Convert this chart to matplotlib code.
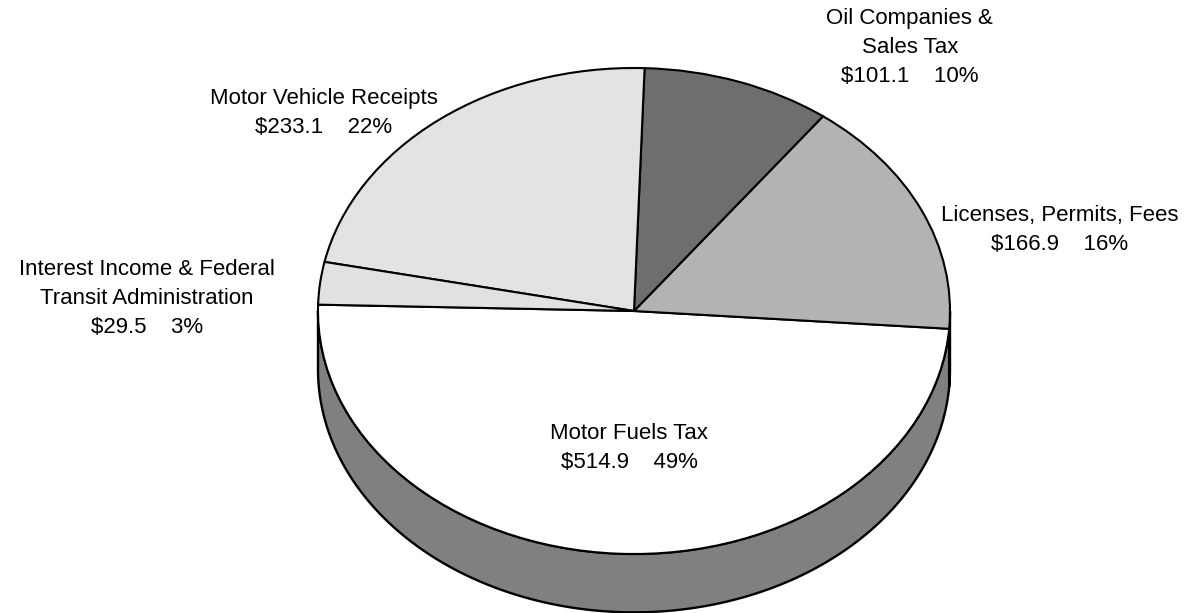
import matplotlib.pyplot as plt
import numpy as np

plt.rcParams['font.family'] = ['Liberation Sans', 'DejaVu Sans']

# revenue sources ($ millions), in drawing order starting at the left edge
sources = ["Motor Fuels Tax", "Licenses, Permits, Fees", "Oil Companies &\nSales Tax",
           "Motor Vehicle Receipts", "Interest Income & Federal\nTransit Administration"]
amounts = [514.9, 166.9, 101.1, 233.1, 29.5]
percents = [49, 16, 10, 22, 3]

face_colors = ["#ffffff", "#b3b3b3", "#6e6e6e", "#e3e3e3", "#e1e1e1"]
side_colors = ["#808080", "#595959", "#373737", "#717171", "#707070"]

# label centres (x, y) in the same units as the pie
label_pos = [(-0.016, -0.562), (1.348, 0.333), (0.873, 1.086), (-0.981, 0.813), (-1.541, 0.053)]

start = 178.5
depth = 0.24

fig = plt.figure(figsize=(11.91, 6.13), dpi=100)
ax = fig.add_axes([0, 0, 1, 1])

fracs = np.array(amounts) / sum(amounts)
edges = start + 360 * np.concatenate([[0], np.cumsum(fracs)])

# side of the disc: only the part of each slice facing the viewer
for i in range(len(amounts)):
    a0, a1 = edges[i], edges[i + 1]
    for lo, hi in [(180, 360), (540, 720)]:
        s, e = max(a0, lo), min(a1, hi)
        if e <= s:
            continue
        t = np.radians(np.linspace(s, e, 200))
        xs = np.concatenate([np.cos(t), np.cos(t[::-1])])
        ys = np.concatenate([np.sin(t), np.sin(t[::-1]) - depth])
        ax.fill(xs, ys, facecolor=side_colors[i], edgecolor="black", linewidth=1.7,
                zorder=1)

wedges, _ = ax.pie(amounts, colors=face_colors, startangle=start, counterclock=True,
                   radius=1.0, wedgeprops=dict(edgecolor="black", linewidth=1.5))
for w in wedges:
    w.set_zorder(2)

for name, amt, pct, (lx, ly) in zip(sources, amounts, percents, label_pos):
    ax.text(lx, ly, "{}\n${:.1f}    {}%".format(name, amt, pct), ha="center", va="center",
            fontsize=16, linespacing=1.5, color="black", zorder=3)

ax.set_aspect("auto")
ax.set_xlim(-634 / 316, (1191 - 634) / 316)
ax.set_ylim(-(613 - 311) / 243, 311 / 243)
ax.axis("off")

fig.savefig("out.png", dpi=100, facecolor="white")
